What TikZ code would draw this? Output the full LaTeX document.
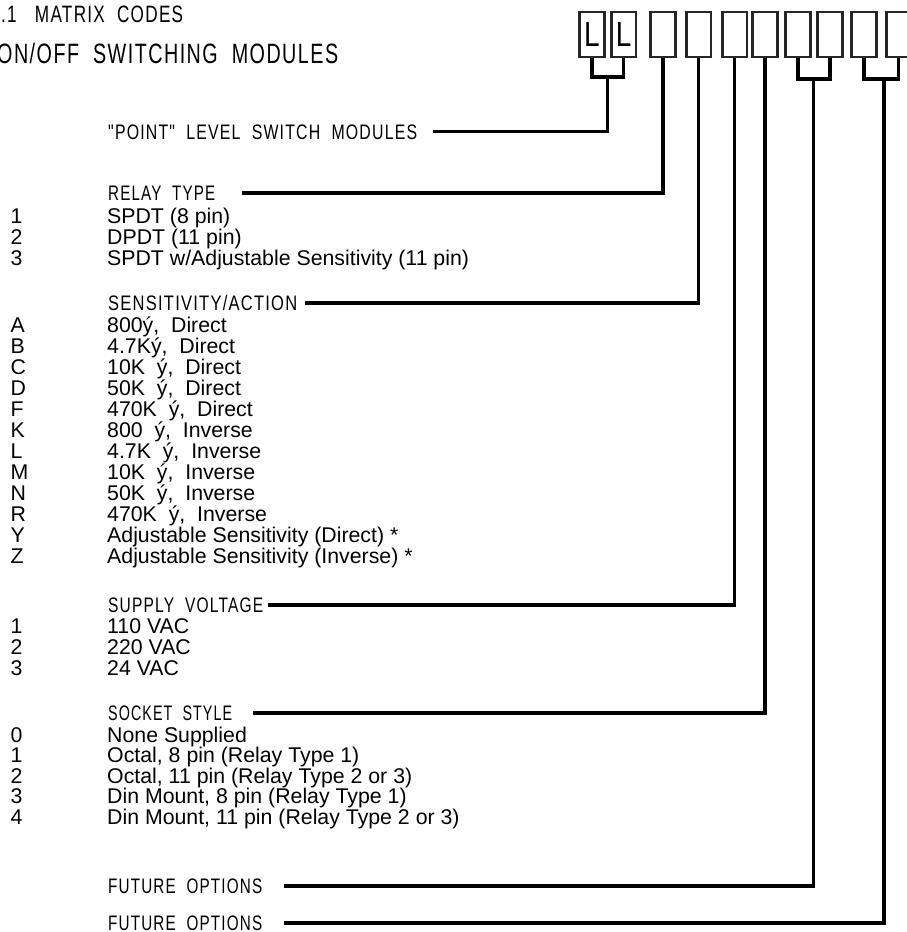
\documentclass[tikz,border=0pt]{standalone}
\usepackage{fontspec}
\usepackage{graphicx}
\setmainfont{Liberation Sans}
\newfontfamily\headfont[FakeStretch=0.8,LetterSpace=6,Ligatures=TeXOff]{Liberation Sans}
\newcommand\hd[2]{\resizebox{#1pt}{\height}{#2}}
\begin{document}
\begin{tikzpicture}[x=1pt,y=-1pt,
  codebox/.style={draw=black!85,line width=2.6pt,minimum width=24.6pt,minimum height=45pt,inner sep=0pt,font=\headfont\fontsize{35}{35}\selectfont},
  head/.style={inner sep=0pt,anchor=west,text height=15pt,text depth=0pt,font=\headfont\fontsize{21}{21}\selectfont},
  title/.style={inner sep=0pt,anchor=base west},
  row/.style={inner sep=0pt,anchor=base west,font=\fontsize{21.3}{21}\selectfont},
  conn/.style={line width=3.2pt,line join=miter,line cap=butt}]
\useasboundingbox (0,0) rectangle (906,932);

% titles
\node[title,font=\headfont\fontsize{23.7}{24}\selectfont] (t1) at (1,22) {\hd{182}{.1~~~MATRIX~ CODES}};
\node[title,font=\headfont\fontsize{28}{28}\selectfont] (t2) at (-3,63) {\hd{341}{ON/OFF~ SWITCHING~ MODULES}};

% code boxes
\node[codebox] (b1) at (592,34.5) {L};
\node[codebox] (b2) at (623.7,34.5) {L};
\node[codebox] (b3) at (663,34.5) {};
\node[codebox] (b4) at (698.5,34.5) {};
\node[codebox] (b5) at (734.5,34.5) {};
\node[codebox] (b6) at (765,34.5) {};
\node[codebox] (b7) at (797.9,34.5) {};
\node[codebox] (b8) at (830,34.5) {};
\node[codebox] (b9) at (864,34.5) {};
\node[codebox] (b10) at (898.7,34.5) {};

% headings
\node[head] (h0) at (108,131.7) {\hd{309}{"POINT"~ LEVEL~ SWITCH~ MODULES}};
\node[head] (h1) at (108,193) {\hd{107}{RELAY~ TYPE}};
\node[head] (h2) at (108,303) {\hd{189}{SENSITIVITY/ACTION}};
\node[head] (h3) at (108,605) {\hd{155}{SUPPLY~ VOLTAGE}};
\node[head] (h4) at (108,713) {\hd{124}{SOCKET~ STYLE}};
\node[head] (h5) at (108,886) {\hd{154}{FUTURE~ OPTIONS}};
\node[head] (h6) at (108,923) {\hd{154}{FUTURE~ OPTIONS}};

% relay rows
\foreach \y/\k/\t [count=\i] in {223/1/{SPDT (8 pin)},244/2/{DPDT (11 pin)},265/3/{SPDT w/Adjustable Sensitivity (11 pin)}}{
  \node[row] (rk\i) at (10.5,\y) {\k};
  \node[row] (rt\i) at (107,\y) {\t};
}
% sensitivity rows
\foreach \y/\k/\t [count=\i] in {332/A/{800ý,~ Direct},353/B/{4.7Ký,~ Direct},374/C/{10K~ ý,~ Direct},395/D/{50K~ ý,~ Direct},416/F/{470K~ ý,~ Direct},437/K/{800~ ý,~ Inverse},458/L/{4.7K~ ý,~ Inverse},479/M/{10K~ ý,~ Inverse},500/N/{50K~ ý,~ Inverse},521/R/{470K~ ý,~ Inverse},542/Y/{Adjustable Sensitivity (Direct) *},563/Z/{Adjustable Sensitivity (Inverse) *}}{
  \node[row] (sk\i) at (10.5,\y) {\k};
  \node[row] (st\i) at (107,\y) {\t};
}
% supply rows
\foreach \y/\k/\t [count=\i] in {633/1/{110 VAC},654/2/{220 VAC},675/3/{24 VAC}}{
  \node[row] (vk\i) at (10.5,\y) {\k};
  \node[row] (vt\i) at (107,\y) {\t};
}
% socket rows
\foreach \y/\k/\t [count=\i] in {742/0/{None Supplied},762.5/1/{Octal, 8 pin (Relay Type 1)},783/2/{Octal, 11 pin (Relay Type 2 or 3)},803.5/3/{Din Mount, 8 pin (Relay Type 1)},824/4/{Din Mount, 11 pin (Relay Type 2 or 3)}}{
  \node[row] (ok\i) at (10.5,\y) {\k};
  \node[row] (ot\i) at (107,\y) {\t};
}

% connectors
\coordinate (j12) at (607.5,77);
\draw[conn] (b1.south) |- (j12) -| (b2.south);
\draw[conn] (j12) |- ([xshift=16pt]h0.east);
\draw[conn] (b3.south) |- ([xshift=27pt]h1.east);
\draw[conn] (b4.south) |- ([xshift=8pt]h2.east);
\draw[conn] (b5.south) |- ([xshift=5pt]h3.east);
\draw[conn] (b6.south) |- ([xshift=21pt]h4.east);
\coordinate (j78) at (813.5,79);
\draw[conn] (b7.south) |- (j78) -| (b8.south);
\draw[conn] (j78) |- ([xshift=22pt]h5.east);
\coordinate (j910) at (884,79);
\draw[conn] (b9.south) |- (j910) -| (b10.south);
\draw[conn] (j910) |- ([xshift=22pt]h6.east);
\end{tikzpicture}
\end{document}
